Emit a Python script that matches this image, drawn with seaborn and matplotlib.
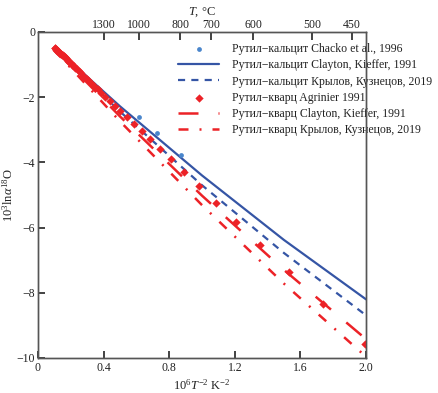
import numpy as np
import pandas as pd
import matplotlib
matplotlib.use("Agg")
import matplotlib.pyplot as plt
import seaborn as sns

# --- data ---
# Chacko et al., 1996 (rutile-calcite), points
chacko_x = [0.618, 0.727, 0.870]
chacko_y = [-2.60, -3.11, -3.77]

# model curves, sampled at a few x
curve_x = [0.1, 0.5, 1.0, 1.5, 2.0]
calc_clayton = [-0.47, -2.28, -4.40, -6.38, -8.20]
calc_krylov = [-0.50, -2.44, -4.70, -6.78, -8.69]
qz_clayton = [-0.53, -2.59, -5.02, -7.30, -9.42]
qz_krylov = [-0.56, -2.74, -5.31, -7.72, -9.96]

# Agrinier 1991 (rutile-quartz), points
agr_x = [0.101, 0.104, 0.107, 0.111, 0.114, 0.118, 0.122, 0.126, 0.130, 0.135,
         0.139, 0.145, 0.150, 0.156, 0.162, 0.168, 0.175, 0.182, 0.190, 0.199,
         0.208, 0.217, 0.228, 0.239, 0.250, 0.263, 0.277, 0.291, 0.307, 0.325,
         0.343, 0.364, 0.386, 0.411, 0.439, 0.469, 0.503, 0.541, 0.583, 0.632,
         0.683, 0.744, 0.809, 0.890, 0.984, 1.085, 1.210, 1.354, 1.532, 1.740,
         1.994]
agr_y = [-0.49, -0.50, -0.52, -0.54, -0.55, -0.57, -0.59, -0.61, -0.63, -0.65,
         -0.67, -0.70, -0.72, -0.75, -0.78, -0.81, -0.84, -0.88, -0.92, -0.96,
         -1.00, -1.05, -1.10, -1.15, -1.21, -1.27, -1.34, -1.40, -1.48, -1.57,
         -1.65, -1.75, -1.86, -1.98, -2.12, -2.27, -2.43, -2.60, -2.81, -3.03,
         -3.29, -3.59, -3.91, -4.28, -4.72, -5.24, -5.82, -6.53, -7.35, -8.34,
         -9.58]

labels = [
    "Рутил−кальцит Chacko et al., 1996",
    "Рутил−кальцит Clayton, Kieffer, 1991",
    "Рутил−кальцит Крылов, Кузнецов, 2019",
    "Рутил−кварц Agrinier 1991",
    "Рутил−кварц Clayton, Kieffer, 1991",
    "Рутил−кварц Крылов, Кузнецов, 2019",
]

x_ticks = [0, 0.4, 0.8, 1.2, 1.6, 2.0]
x_ticklabels = ["0", "0.4", "0.8", "1.2", "1.6", "2.0"]
y_ticks = [0, -2, -4, -6, -8, -10]
y_ticklabels = ["0", "−2", "−4", "−6", "−8", "−10"]
t_celsius = [1300, 1000, 800, 700, 600, 500, 450]

BLUE = "#3555a5"
LBLUE = "#4a86cc"
RED = "#ec2227"
INK = "#222222"

# --- style ---
sns.set_theme(style="ticks")
plt.rcParams['font.family'] = ['Liberation Serif', 'DejaVu Serif']
plt.rcParams['mathtext.fontset'] = 'custom'
plt.rcParams['mathtext.rm'] = 'Liberation Serif'
plt.rcParams['mathtext.it'] = 'Liberation Serif:italic'
plt.rcParams['mathtext.bf'] = 'Liberation Serif:bold'

fig = plt.figure(figsize=(4.39, 3.93), dpi=100)
ax = fig.add_axes([38 / 439, 1 - 358 / 393, 328 / 439, 326 / 393])

sns.scatterplot(x=chacko_x, y=chacko_y, ax=ax, color=LBLUE, s=12, linewidth=0,
                marker="o", label=labels[0], zorder=4)
sns.lineplot(x=curve_x, y=calc_clayton, ax=ax, color=BLUE, lw=1.6,
             label=labels[1], zorder=2)
sns.lineplot(x=curve_x, y=calc_krylov, ax=ax, color=BLUE, lw=1.6,
             linestyle=(0, (3.2, 2.8)), label=labels[2], zorder=2)
sns.scatterplot(x=agr_x, y=agr_y, ax=ax, color=RED, s=18, linewidth=0,
                marker="D", label=labels[3], zorder=5)
sns.lineplot(x=curve_x, y=qz_clayton, ax=ax, color=RED, lw=1.8,
             linestyle=(0, (8, 8)), label=labels[4], zorder=3)
sns.lineplot(x=curve_x, y=qz_krylov, ax=ax, color=RED, lw=1.8,
             linestyle=(0, (4, 4.4, 0.8, 4.4)), label=labels[5], zorder=3)

ax.set_xlim(0, 2.0)
ax.set_ylim(-10, 0)
ax.set_xticks(x_ticks)
ax.set_xticklabels(x_ticklabels)
ax.set_yticks(y_ticks)
ax.set_yticklabels(y_ticklabels)
for sp in ax.spines.values():
    sp.set_visible(True)
    sp.set_color("#555555")
    sp.set_linewidth(1.0)

ax.set_xlabel(r"$10^6\mathit{T}^{-2}\ \mathrm{K}^{-2}$", fontsize=9, labelpad=3,
              color="#222222")
ax.set_ylabel(r"$10^3\mathrm{ln}\alpha^{18}\mathrm{O}$", fontsize=9, labelpad=1,
              color="#222222")

# top axis in temperature
ax2 = ax.twiny()
ax2.set_xlim(ax.get_xlim())
ax2.set_xticks([1e6 / (t + 273.15) ** 2 for t in t_celsius])
ax2.set_xticklabels([str(t) for t in t_celsius])
ax2.set_xlabel(r"$\mathit{T}$, °C", fontsize=9, labelpad=3, color="#222222")
for sp in ax2.spines.values():
    sp.set_visible(True)
    sp.set_color("#555555")
    sp.set_linewidth(1.0)

# ticks: inward
ax.xaxis.set_tick_params(which="major", direction="in", length=5, width=1.2,
                         color=INK, pad=3, labelsize=8.5, labelcolor="#222222",
                         bottom=True, top=False)
ax.yaxis.set_tick_params(which="major", direction="in", length=5, width=1.2,
                         color=INK, pad=2, labelsize=8.5, labelcolor="#222222",
                         left=True, right=False)
ax2.xaxis.set_tick_params(which="major", direction="in", length=6, width=1.2,
                          color=INK, pad=1, labelsize=8.5, labelcolor="#222222",
                          top=True, bottom=False)
for t in ax.xaxis.get_major_ticks() + ax.yaxis.get_major_ticks() + \
        ax2.xaxis.get_major_ticks():
    t.tick1line.set_zorder(10)
    t.tick2line.set_zorder(10)

ax.legend(loc="upper left", bbox_to_anchor=(178 / 439, 1 - 43 / 393),
          bbox_transform=fig.transFigure, frameon=False, fontsize=8.5,
          handlelength=3.5, handletextpad=1.1, labelspacing=0.36,
          borderpad=0, borderaxespad=0, markerscale=1.0, labelcolor="#222222")

fig.savefig("out.png", dpi=100)
